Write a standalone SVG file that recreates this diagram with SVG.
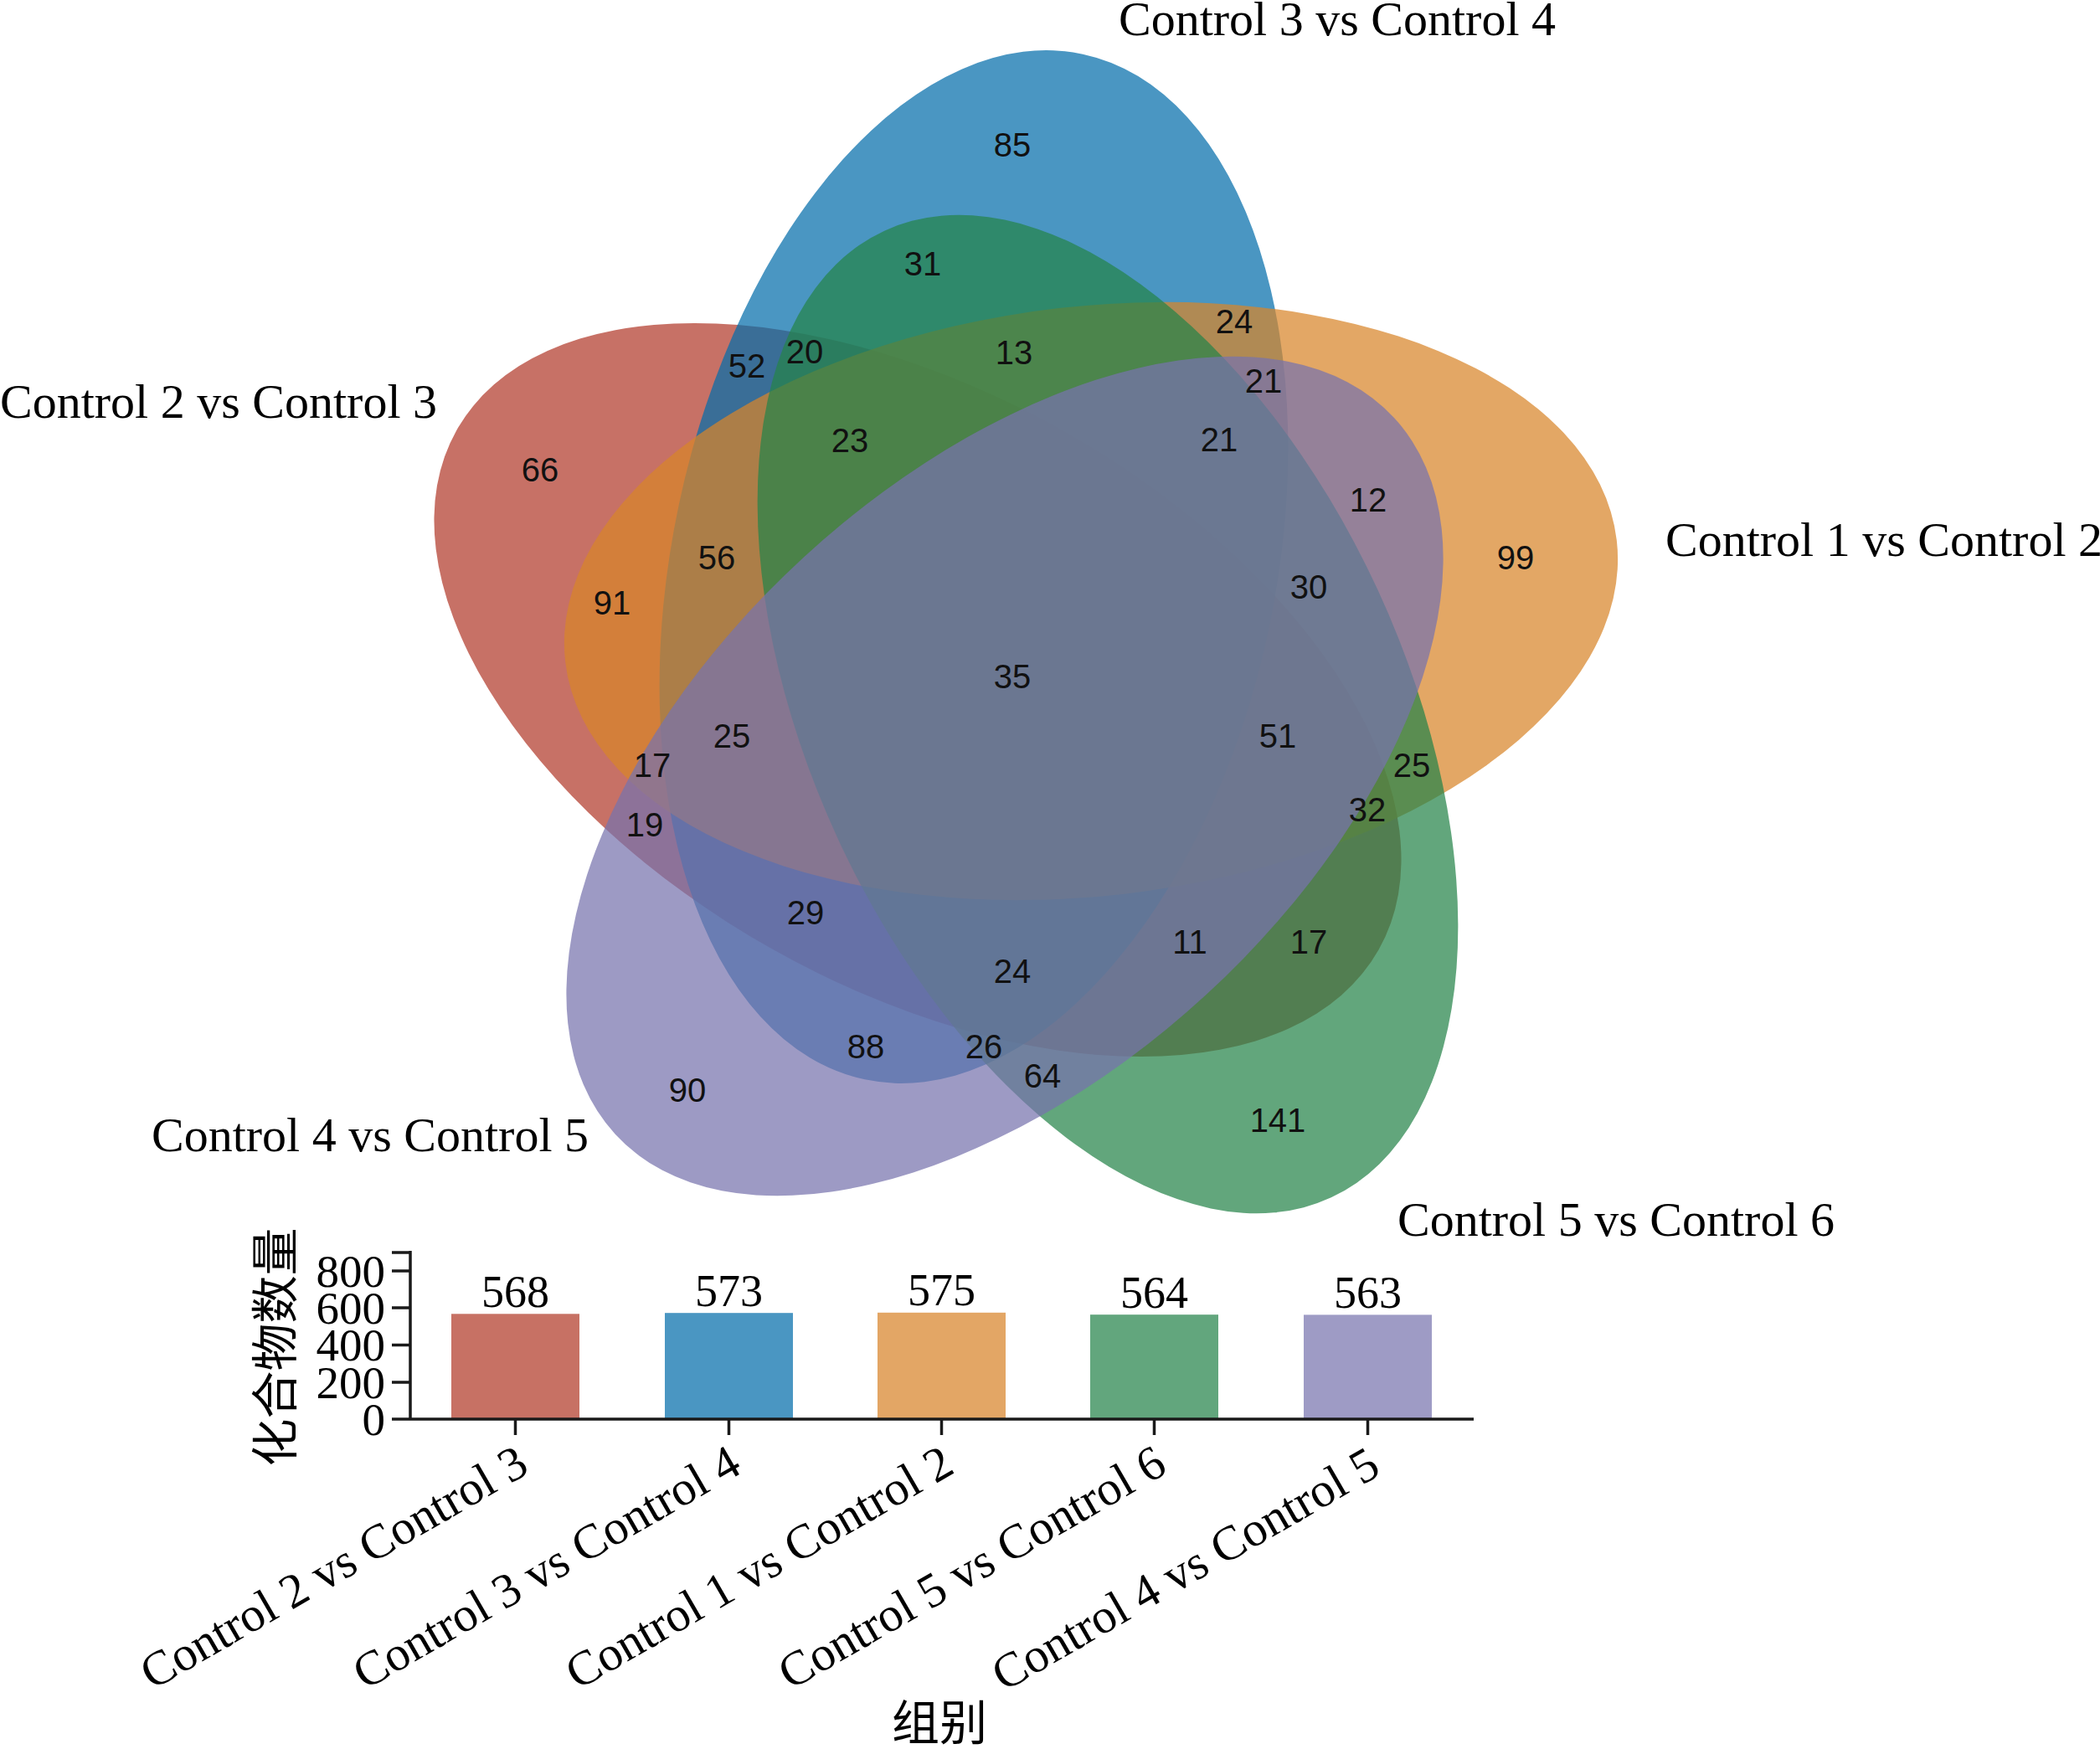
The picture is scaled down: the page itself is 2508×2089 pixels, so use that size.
<svg xmlns="http://www.w3.org/2000/svg" width="2508" height="2089" viewBox="0 0 2508 2089">
<style>
.set{fill-opacity:0.72;stroke:none}
.num{font-family:"Liberation Sans",Arial,sans-serif;font-size:40px;fill:#111;text-anchor:middle}
.ttl{font-family:"Liberation Serif","Times New Roman",serif;font-size:58px;fill:#000}
.tk{font-family:"Liberation Serif","Times New Roman",serif;font-size:55px;fill:#000;text-anchor:end}
.val{font-family:"Liberation Serif","Times New Roman",serif;font-size:54px;fill:#000;text-anchor:middle}
.xl{font-family:"Liberation Serif","Times New Roman",serif;font-size:58px;fill:#000;text-anchor:end}
.cjk{font-family:"Liberation Serif","Noto Sans CJK SC",sans-serif;font-size:57px;fill:#000;text-anchor:middle}
.ax{stroke:#1a1a1a;stroke-width:3.5;fill:none}
</style>
<rect width="2508" height="2089" fill="#ffffff"/>
<g id="venn">
<g id="set-c2c3"><ellipse class="set" cx="1096" cy="824" rx="632" ry="355" transform="rotate(29.4 1096 824)" fill="#B13A2B"/></g>
<g id="set-c3c4"><ellipse class="set" cx="1163" cy="677" rx="360" ry="626" transform="rotate(12 1163 677)" fill="#046DAA"/></g>
<g id="set-c1c2"><ellipse class="set" cx="1303" cy="718" rx="632" ry="352" transform="rotate(-6.6 1303 718)" fill="#D88529"/></g>
<g id="set-c5c6"><ellipse class="set" cx="1323" cy="853" rx="636" ry="355" transform="rotate(65.2 1323 853)" fill="#25834A"/></g>
<g id="set-c4c5"><ellipse class="set" cx="1200" cy="927" rx="632" ry="355" transform="rotate(-42.6 1200 927)" fill="#7773AD"/></g>
</g>
<g id="region-labels">
<text class="num" x="1209" y="187">85</text>
<text class="num" x="1102" y="329">31</text>
<text class="num" x="1474" y="398">24</text>
<text class="num" x="892" y="451">52</text>
<text class="num" x="961" y="434">20</text>
<text class="num" x="1211" y="435">13</text>
<text class="num" x="1509" y="469">21</text>
<text class="num" x="645" y="575">66</text>
<text class="num" x="1015" y="540">23</text>
<text class="num" x="1456" y="539">21</text>
<text class="num" x="1634" y="611">12</text>
<text class="num" x="1810" y="680">99</text>
<text class="num" x="856" y="680">56</text>
<text class="num" x="1563" y="715">30</text>
<text class="num" x="731" y="734">91</text>
<text class="num" x="1209" y="822">35</text>
<text class="num" x="874" y="893">25</text>
<text class="num" x="1526" y="893">51</text>
<text class="num" x="779" y="928">17</text>
<text class="num" x="1686" y="928">25</text>
<text class="num" x="770" y="999">19</text>
<text class="num" x="1633" y="981">32</text>
<text class="num" x="962" y="1104">29</text>
<text class="num" x="1421" y="1139">11</text>
<text class="num" x="1563" y="1139">17</text>
<text class="num" x="1209" y="1174">24</text>
<text class="num" x="1034" y="1264">88</text>
<text class="num" x="1175" y="1264">26</text>
<text class="num" x="1245" y="1299">64</text>
<text class="num" x="821" y="1316">90</text>
<text class="num" x="1526" y="1352">141</text>
</g>
<g id="set-titles">
<text class="ttl" x="1336" y="42">Control 3 vs Control 4</text>
<text class="ttl" x="0" y="499">Control 2 vs Control 3</text>
<text class="ttl" x="1989" y="664">Control 1 vs Control 2</text>
<text class="ttl" x="181" y="1375">Control 4 vs Control 5</text>
<text class="ttl" x="1669" y="1476">Control 5 vs Control 6</text>
</g>
<g id="bar-chart">
<g id="bars">
<rect x="539" y="1569.3" width="153" height="125.7" fill="#C77164"/>
<rect x="794" y="1568.2" width="153" height="126.8" fill="#4A96C2"/>
<rect x="1048" y="1567.8" width="153" height="127.2" fill="#E3A665"/>
<rect x="1302" y="1570.2" width="153" height="124.8" fill="#62A67D"/>
<rect x="1557" y="1570.4" width="153" height="124.6" fill="#9E9BC5"/>
</g>
<g id="axes">
<path class="ax" d="M490 1494 V1695 M468 1695 H1760"/>
<path class="ax" d="M468 1496 H490 M468 1518 H490 M468 1562 H490 M468 1606.5 H490 M468 1651 H490"/>
<path class="ax" d="M615.5 1695 V1714 M870.5 1695 V1714 M1124.5 1695 V1714 M1378.5 1695 V1714 M1633.5 1695 V1714"/>
</g>
<g id="y-ticks">
<text class="tk" x="460" y="1537">800</text>
<text class="tk" x="460" y="1581">600</text>
<text class="tk" x="460" y="1625">400</text>
<text class="tk" x="460" y="1670">200</text>
<text class="tk" x="460" y="1714">0</text>
</g>
<g id="values">
<text class="val" x="615.5" y="1561">568</text>
<text class="val" x="870.5" y="1560">573</text>
<text class="val" x="1124.5" y="1559">575</text>
<text class="val" x="1378.5" y="1562">564</text>
<text class="val" x="1633.5" y="1562">563</text>
</g>
<g id="x-labels">
<text class="xl" transform="translate(634 1758) rotate(-30)">Control 2 vs Control 3</text>
<text class="xl" transform="translate(888 1758) rotate(-30)">Control 3 vs Control 4</text>
<text class="xl" transform="translate(1142 1758) rotate(-30)">Control 1 vs Control 2</text>
<text class="xl" transform="translate(1396 1758) rotate(-30)">Control 5 vs Control 6</text>
<text class="xl" transform="translate(1651 1760) rotate(-30)">Control 4 vs Control 5</text>
</g>
<text class="cjk" transform="translate(349 1609) rotate(-90)">化合物数量</text>
<text class="cjk" x="1122" y="2078">组别</text>
</g>
</svg>
